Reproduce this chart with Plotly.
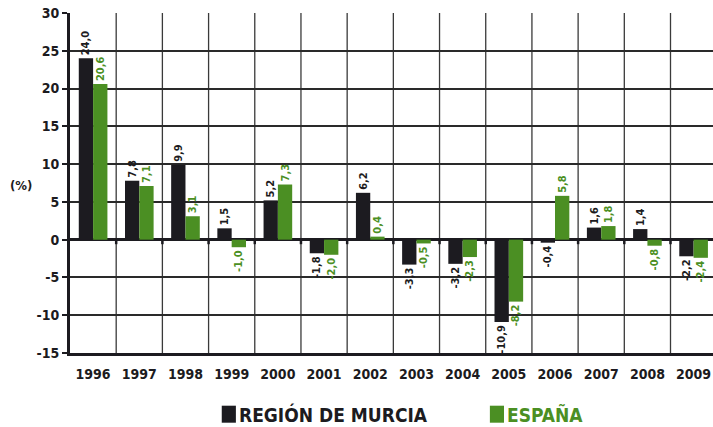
import plotly.graph_objects as go

years = ["1996", "1997", "1998", "1999", "2000", "2001", "2002",
         "2003", "2004", "2005", "2006", "2007", "2008", "2009"]
murcia = [24.0, 7.8, 9.9, 1.5, 5.2, -1.8, 6.2, -3.3, -3.2, -10.9, -0.4, 1.6, 1.4, -2.2]
espana = [20.6, 7.1, 3.1, -1.0, 7.3, -2.0, 0.4, -0.5, -2.3, -8.2, 5.8, 1.8, -0.8, -2.4]
series_names = ["REGIÓN DE MURCIA", "ESPAÑA"]
y_ticks = [-15, -10, -5, 0, 5, 10, 15, 20, 25, 30]

BLACK = "#1c1b20"
GREEN = "#4b8f23"
FONT = "DejaVu Sans Condensed, Liberation Sans Narrow, Arial Narrow, sans-serif"


def fmt(v):
    return "<b>%s</b>" % ("%.1f" % v).replace(".", ",")


fig = go.Figure()
for name, vals, col in [(series_names[0], murcia, BLACK), (series_names[1], espana, GREEN)]:
    fig.add_trace(go.Bar(
        x=years, y=vals, name=name,
        marker=dict(color=col, line=dict(width=0)),
        text=[fmt(v) for v in vals], texttemplate="%{text}",
        textposition="outside", textangle=-90,
        outsidetextfont=dict(color=col, size=11, family=FONT),
        constraintext="none", cliponaxis=False, hoverinfo="skip",
    ))

# vertical grid lines at category boundaries + small ticks on the zero line
for i in range(len(years)):
    fig.add_shape(type="line", xref="x", yref="paper", x0=i + 0.5, x1=i + 0.5,
                  y0=0, y1=1, line=dict(color="#3a3a3a", width=1.3), layer="below")
    fig.add_shape(type="line", xref="x", yref="y", x0=i + 0.5, x1=i + 0.5,
                  y0=0, y1=-0.6, line=dict(color=BLACK, width=2.5))

# legend built from squares + text
legend_items = [(series_names[0], BLACK, 0.236, 0.262), (series_names[1], GREEN, 0.653, 0.679)]
annotations = [dict(text="<b>(%)</b>", xref="paper", yref="paper", x=-0.097, y=0.492,
                    xanchor="left", yanchor="middle", showarrow=False,
                    font=dict(size=13, family=FONT, color=BLACK))]
for name, col, sx, tx in legend_items:
    fig.add_shape(type="rect", xref="paper", yref="paper",
                  x0=sx, x1=sx + 0.022, y0=-0.205, y1=-0.155,
                  fillcolor=col, line=dict(width=0))
    annotations.append(dict(text="<b>%s</b>" % name, xref="paper", yref="paper",
                            x=tx - 0.002, y=-0.18, xanchor="left", yanchor="middle",
                            showarrow=False,
                            font=dict(size=19, family=FONT, color=col)))

fig.update_layout(
    width=713, height=427,
    margin=dict(l=70, r=0, t=13, b=74, autoexpand=False),
    paper_bgcolor="white", plot_bgcolor="white",
    barmode="group", bargap=0.38, bargroupgap=0,
    font=dict(family=FONT, color=BLACK),
    showlegend=False,
    annotations=annotations,
)
fig.update_xaxes(
    type="category", range=[-0.5, 13.42], automargin=False,
    showgrid=False,
    showline=True, linecolor=BLACK, linewidth=3,
    ticks="", tickfont=dict(size=14, family=FONT, color=BLACK, weight="bold"),
    ticklabelstandoff=6,
)
fig.update_yaxes(
    range=[-15, 30], tickvals=y_ticks, ticktext=[str(t) for t in y_ticks],
    automargin=False,
    showgrid=True, gridcolor="#2a2a2a", gridwidth=1.5,
    zeroline=True, zerolinecolor=BLACK, zerolinewidth=3,
    showline=True, linecolor=BLACK, linewidth=3,
    ticks="outside", ticklen=5, tickwidth=2, tickcolor=BLACK,
    tickfont=dict(size=14, family=FONT, color=BLACK, weight="bold"),
)
fig.write_html("out.html", config={"responsive": False, "displayModeBar": False},
               post_script="document.body.style.margin='0';document.body.style.overflow='hidden';")
